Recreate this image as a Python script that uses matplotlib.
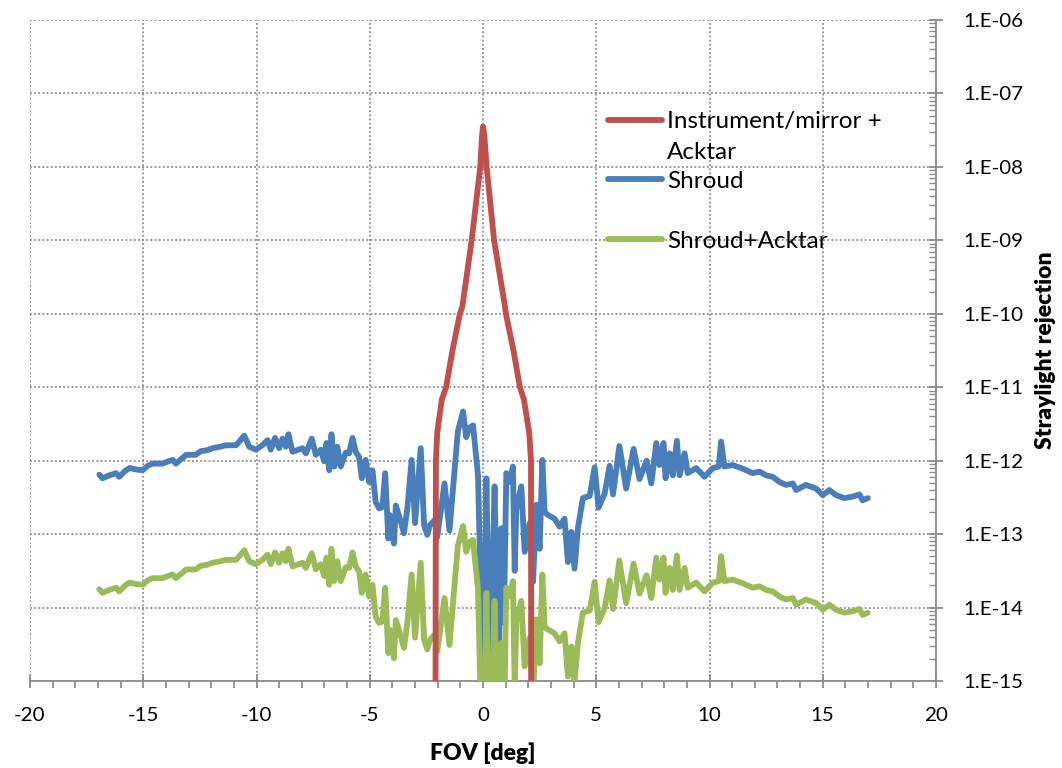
import numpy as np
import matplotlib
matplotlib.use('Agg')
import matplotlib.pyplot as plt
from matplotlib.ticker import MultipleLocator, LogLocator, FuncFormatter, NullFormatter
from matplotlib.lines import Line2D

plt.rcParams['font.family'] = ['Lato', 'DejaVu Sans']

# --- data (values as log10 of the straylight rejection) ---
red_fov = [-2.10, -2.08, -2.02, -1.82, -1.63, -1.34, -1.02, -0.91, -0.50, -0.12,
           -0.05, 0.00, 0.06, 0.16, 0.49, 0.97, 1.01, 1.34, 1.63, 1.81, 2.04, 2.12, 2.13]
red_log = [-16.0, -12.0, -11.62, -11.17, -11.0, -10.49, -10.0, -9.90, -9.0, -8.0,
           -7.60, -7.45, -7.58, -8.0, -9.0, -9.90, -10.0, -10.49, -11.0, -11.17, -11.62, -12.0, -16.0]

fov = [-16.94, -16.80, -16.50, -16.20, -16.06, -15.80, -15.60, -15.30, -15.03, -14.80,
       -14.60, -14.15, -13.90, -13.70, -13.56, -13.10, -12.68, -12.46, -12.20, -11.94,
       -11.60, -11.35, -10.90, -10.54, -10.32, -10.03, -9.74, -9.51, -9.37, -9.18,
       -9.00, -8.85, -8.71, -8.59, -8.41, -7.97, -7.82, -7.56, -7.38, -7.16,
       -7.01, -6.91, -6.79, -6.69, -6.57, -6.43, -6.28, -6.06, -5.91, -5.76,
       -5.62, -5.47, -5.35, -5.18, -5.03, -4.88, -4.74, -4.59, -4.44, -4.32,
       -4.18, -4.12, -3.93, -3.85, -3.63, -3.49, -3.34, -3.15, -3.00, -2.75,
       -2.60, -2.46, -2.35, -2.14, -2.02, -1.70, -1.48, -1.11, -0.88, -0.74,
       -0.60, -0.44, -0.37, -0.22, -0.12, -0.05, 0.05, 0.10, 0.15, 0.22,
       0.30, 0.38, 0.51, 0.58, 0.68, 0.81, 0.92, 1.03, 1.18, 1.32,
       1.40, 1.47, 1.69, 1.84, 2.06, 2.21, 2.35, 2.50, 2.62, 2.72,
       2.87, 3.16, 3.38, 3.60, 3.75, 3.90, 4.04, 4.19, 4.41, 4.71,
       4.93, 5.10, 5.37, 5.59, 5.74, 6.02, 6.32, 6.65, 6.91, 7.22,
       7.43, 7.65, 7.79, 7.97, 8.06, 8.24, 8.38, 8.56, 8.68, 8.90,
       9.04, 9.41, 9.78, 10.15, 10.41, 10.51, 10.66, 11.03, 11.47, 11.91,
       12.21, 12.50, 12.79, 13.09, 13.38, 13.68, 13.82, 14.26, 14.71, 15.00,
       15.29, 15.59, 15.96, 16.32, 16.62, 16.76, 16.99]

shroud_log = [-12.19, -12.24, -12.20, -12.17, -12.22, -12.14, -12.10, -12.12, -12.13, -12.07,
              -12.04, -12.04, -12.01, -11.99, -12.04, -11.92, -11.92, -11.87, -11.86, -11.83,
              -11.81, -11.79, -11.79, -11.66, -11.81, -11.85, -11.79, -11.72, -11.85, -11.69,
              -11.83, -11.70, -11.81, -11.64, -11.88, -11.83, -11.90, -11.70, -11.92, -11.85,
              -12.01, -11.76, -12.13, -11.64, -12.08, -11.81, -12.08, -11.89, -11.90, -11.69,
              -11.88, -11.95, -12.24, -11.99, -12.29, -12.13, -12.56, -12.65, -12.63, -12.17,
              -13.06, -12.74, -13.13, -12.61, -12.83, -12.99, -12.65, -11.99, -12.85, -11.83,
              -12.88, -13.01, -12.88, -12.81, -13.04, -12.31, -12.95, -11.60, -11.33, -11.68,
              -11.55, -11.52, -11.74, -12.20, -13.50, -15.60, -15.60, -13.50, -12.24, -13.60,
              -15.40, -14.00, -12.35, -13.40, -15.00, -12.92, -14.20, -12.17, -12.29, -12.08,
              -13.50, -12.65, -12.35, -13.24, -12.85, -13.65, -12.60, -13.20, -11.99, -12.70,
              -12.74, -12.79, -12.90, -12.79, -13.38, -12.97, -13.47, -12.92, -12.51, -12.48,
              -12.09, -12.64, -12.45, -12.07, -12.46, -11.80, -12.38, -11.84, -12.25, -12.00,
              -12.31, -11.76, -12.06, -11.76, -12.24, -11.90, -12.20, -11.73, -12.20, -11.90,
              -12.17, -12.10, -12.22, -12.10, -12.08, -11.74, -12.08, -12.06, -12.11, -12.17,
              -12.15, -12.20, -12.22, -12.29, -12.33, -12.31, -12.40, -12.33, -12.38, -12.47,
              -12.40, -12.47, -12.51, -12.49, -12.46, -12.54, -12.51]

shroud_acktar_log = [-13.75, -13.80, -13.76, -13.73, -13.78, -13.70, -13.66, -13.68, -13.69, -13.63,
                     -13.60, -13.60, -13.57, -13.55, -13.60, -13.48, -13.48, -13.43, -13.42, -13.39,
                     -13.37, -13.35, -13.35, -13.22, -13.37, -13.41, -13.35, -13.28, -13.41, -13.25,
                     -13.39, -13.26, -13.37, -13.20, -13.44, -13.39, -13.46, -13.26, -13.48, -13.41,
                     -13.57, -13.32, -13.69, -13.20, -13.64, -13.37, -13.64, -13.45, -13.46, -13.25,
                     -13.44, -13.51, -13.80, -13.55, -13.85, -13.69, -14.12, -14.21, -14.19, -13.73,
                     -14.62, -14.30, -14.69, -14.17, -14.39, -14.55, -14.21, -13.55, -14.41, -13.39,
                     -14.44, -14.57, -14.44, -14.37, -14.60, -13.87, -14.51, -13.16, -12.89, -13.24,
                     -13.11, -13.08, -13.30, -13.76, -15.06, -17.16, -17.16, -15.06, -13.80, -15.16,
                     -16.96, -15.56, -13.91, -14.96, -16.56, -14.48, -15.76, -13.73, -13.85, -13.64,
                     -15.06, -14.21, -13.91, -14.80, -14.41, -15.21, -14.16, -14.76, -13.55, -14.26,
                     -14.30, -14.35, -14.46, -14.35, -14.94, -14.53, -15.03, -14.48, -14.07, -14.04,
                     -13.65, -14.20, -14.01, -13.63, -14.02, -13.36, -13.94, -13.40, -13.81, -13.56,
                     -13.87, -13.32, -13.62, -13.32, -13.80, -13.46, -13.76, -13.29, -13.76, -13.46,
                     -13.73, -13.66, -13.78, -13.66, -13.64, -13.30, -13.64, -13.62, -13.67, -13.73,
                     -13.71, -13.76, -13.78, -13.85, -13.89, -13.87, -13.96, -13.89, -13.94, -14.03,
                     -13.96, -14.03, -14.07, -14.05, -14.02, -14.10, -14.07]

labels = ['Instrument/mirror +\nAcktar', 'Shroud', 'Shroud+Acktar']
x_ticks = [-20, -15, -10, -5, 0, 5, 10, 15, 20]

RED = '#C0504D'
BLUE = '#4A7EBB'
GREEN = '#9BBB59'
GRAY = '#8C8C8C'

W, H = 1062, 768
fig = plt.figure(figsize=(W / 100, H / 100), dpi=100)
ax = fig.add_axes([30 / W, 1 - 681 / H, 906 / W, 661 / H])

line_kw = dict(lw=4.2, solid_joinstyle='round', solid_capstyle='round')
ax.plot(fov, np.power(10.0, shroud_log), color=BLUE, zorder=3, **line_kw)
ax.plot(fov, np.power(10.0, shroud_acktar_log), color=GREEN, zorder=4, **line_kw)
ax.plot(red_fov, np.power(10.0, red_log), color=RED, zorder=5, **line_kw)

ax.set_yscale('log')
ax.set_xlim(-20, 20)
ax.set_ylim(1e-15, 1e-6)

ax.set_xticks(x_ticks)
ax.set_xticklabels([str(t) for t in x_ticks])
ax.xaxis.set_minor_locator(MultipleLocator(1))
ax.yaxis.set_major_locator(LogLocator(base=10, numticks=20))
ax.yaxis.set_minor_locator(LogLocator(base=10, subs=np.arange(2, 10), numticks=20))
ax.yaxis.set_minor_formatter(NullFormatter())
ax.yaxis.set_major_formatter(FuncFormatter(lambda v, p: '1.E-%02d' % round(-np.log10(v))))
ax.yaxis.tick_right()

ax.tick_params(axis='x', which='major', direction='inout', length=10, width=1.3,
               color=GRAY, labelsize=14.75, pad=14)
ax.tick_params(axis='x', which='minor', direction='out', length=5, width=1.3, color=GRAY)
ax.tick_params(axis='y', which='major', direction='inout', length=10, width=1.3,
               color=GRAY, labelsize=14.75, pad=15, left=False, right=True)
ax.tick_params(axis='y', which='minor', direction='in', length=5, width=1.0,
               color=GRAY, left=False, right=True)

for s in ['left', 'top']:
    ax.spines[s].set_visible(False)
for s in ['right', 'bottom']:
    ax.spines[s].set_color(GRAY)
    ax.spines[s].set_linewidth(1.3)

ax.grid(which='major', linestyle=(0, (1, 1.3)), color=GRAY, linewidth=1.3)
ax.set_axisbelow(True)

# axis titles
fig.text(483 / W, 1 - 760 / H, 'FOV [deg]', ha='center', va='baseline',
         fontsize=16.5, fontweight='heavy')
fig.text(1045 / W, 1 - 350 / H, 'Straylight rejection', ha='center', va='center',
         rotation=90, fontsize=16.5, fontweight='heavy')

# legend drawn by hand to keep the original spacing
handle_y = [120, 179, 239]
text_base = [[128, 159], [188], [248]]
for lab, col, hy, bases in zip(labels, [RED, BLUE, GREEN], handle_y, text_base):
    fig.add_artist(Line2D([608 / W, 662 / W], [1 - hy / H, 1 - hy / H], color=col,
                          lw=4.2, solid_capstyle='round', zorder=6))
    for part, b in zip(lab.split('\n'), bases):
        fig.text(667 / W, 1 - b / H, part, ha='left', va='baseline', fontsize=17.5)

fig.savefig('out.png', dpi=100)
